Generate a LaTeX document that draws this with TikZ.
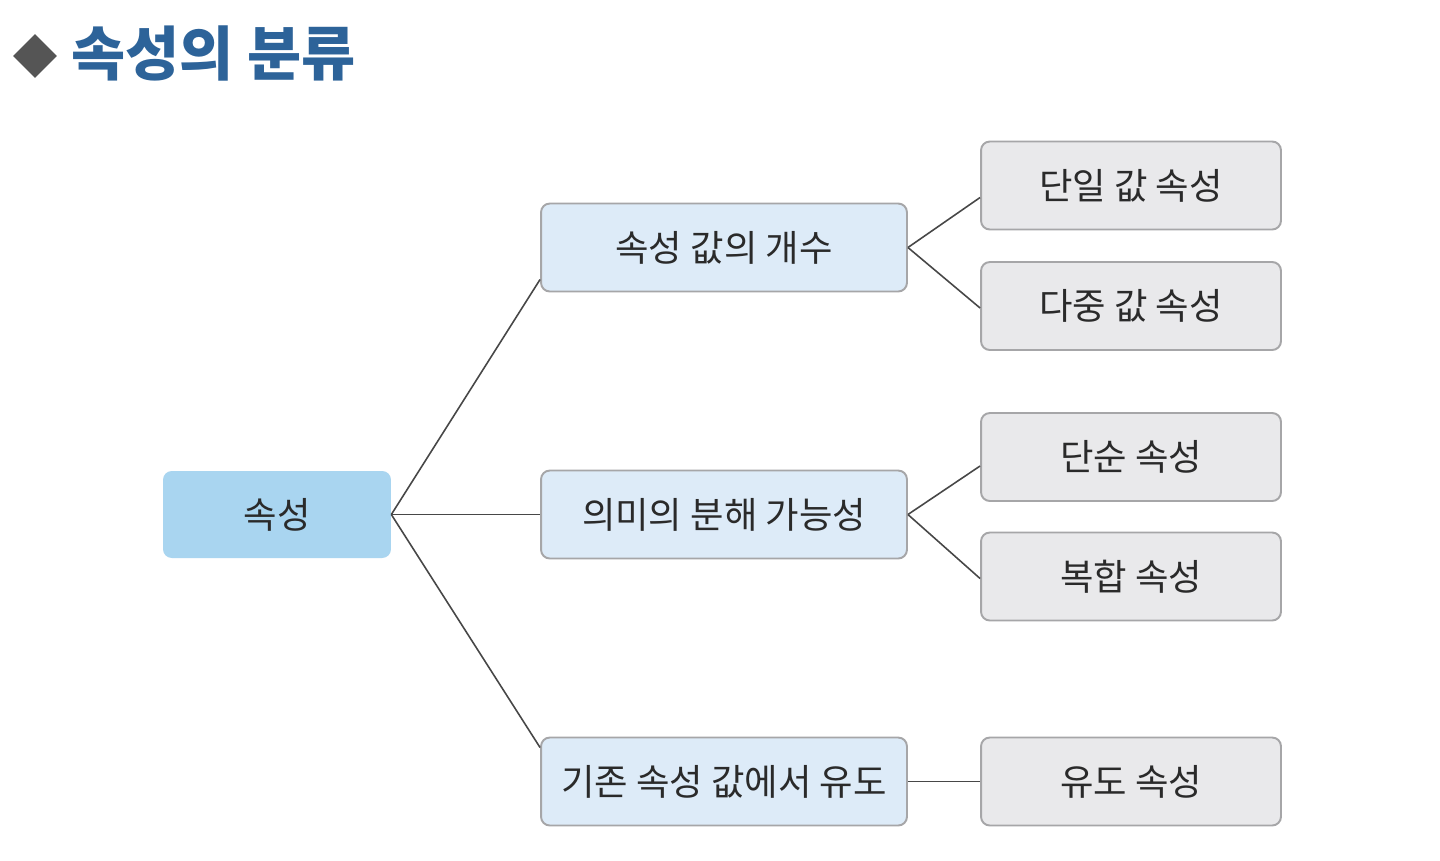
\documentclass[tikz,border=0pt]{standalone}
\usepackage{fontspec}
\setmainfont{Noto Sans CJK KR}
\usetikzlibrary{calc,shapes.geometric}
\definecolor{titleblue}{HTML}{2D6399}
\definecolor{diamondgray}{HTML}{555555}
\definecolor{rootfill}{HTML}{A9D5F0}
\definecolor{midfill}{HTML}{DDEBF8}
\definecolor{leaffill}{HTML}{E9E9EB}
\definecolor{boxborder}{HTML}{A6A6A8}
\definecolor{textdark}{HTML}{2A2A2A}
\definecolor{linegray}{HTML}{474747}
\tikzset{
  boxbase/.style={rectangle, rounded corners=5pt, inner sep=0pt, text=textdark,
    font=\fontsize{20.7pt}{22pt}\selectfont},
  rootbox/.style={boxbase, fill=rootfill, minimum width=4.56cm, minimum height=1.74cm},
  midbox/.style={boxbase, fill=midfill, draw=boxborder, line width=1.1pt, minimum width=7.32cm, minimum height=1.76cm},
  leafbox/.style={boxbase, fill=leaffill, draw=boxborder, line width=1.1pt, minimum width=6.0cm, minimum height=1.76cm},
  conn/.style={draw=linegray, line width=0.9pt}
}
\begin{document}
\begin{tikzpicture}[x=0.02cm,y=-0.02cm]
\useasboundingbox[fill=white] (0,0) rectangle (1440,860);
% title
\node[diamond, fill=diamondgray, minimum width=0.88cm, minimum height=0.88cm, inner sep=0pt] (dia) at (35,56) {};
\node[anchor=west, text=titleblue, inner sep=0pt, font=\fontsize{33.5pt}{35pt}\selectfont\bfseries] (title) at (71,53) {속성의 분류};
% nodes
\node[rootbox] (root) at (277,514.5) {속성};
\node[midbox] (m1) at (724,247.5) {속성 값의 개수};
\node[midbox] (m2) at (724,514.5) {의미의 분해 가능성};
\node[midbox] (m3) at (724,781.5) {기존 속성 값에서 유도};
\node[leafbox] (l1) at (1131,185.5) {단일 값 속성};
\node[leafbox] (l2) at (1131,306) {다중 값 속성};
\node[leafbox] (l3) at (1131,457) {단순 속성};
\node[leafbox] (l4) at (1131,576.5) {복합 속성};
\node[leafbox] (l5) at (1131,781.5) {유도 속성};
% connectors
\draw[conn] (root.east) -- ($(m1.south west)+(0,-13)$);
\draw[conn] (root.east) -- (m2.west);
\draw[conn] (root.east) -- ($(m3.north west)+(0,11)$);
\draw[conn] (m1.east) -- ($(l1.west)+(0,12)$);
\draw[conn] (m1.east) -- ($(l2.west)+(0,2)$);
\draw[conn] (m2.east) -- ($(l3.west)+(0,9)$);
\draw[conn] (m2.east) -- ($(l4.west)+(0,2)$);
\draw[conn] (m3.east) -- (l5.west);
\end{tikzpicture}
\end{document}
